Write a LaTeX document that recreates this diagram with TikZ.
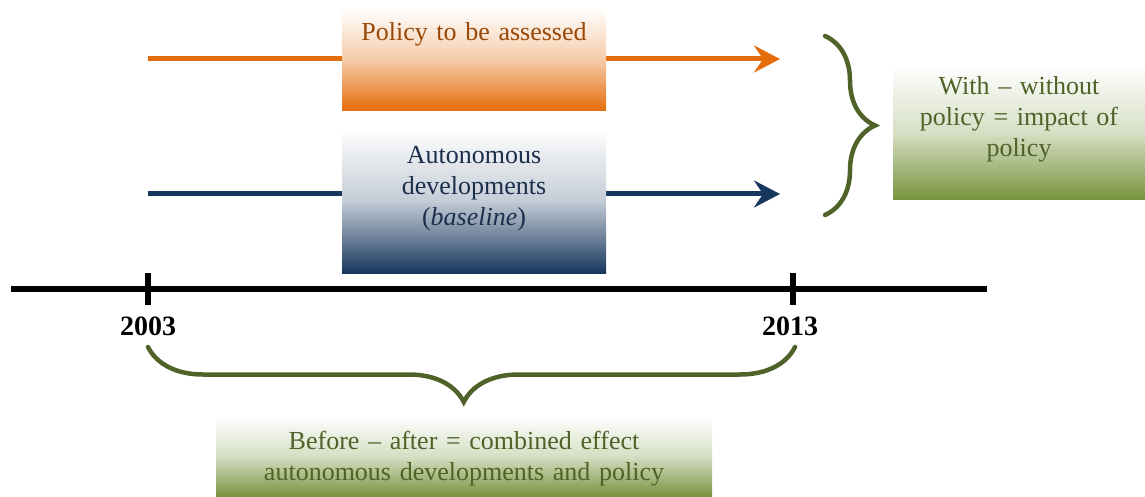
\documentclass[tikz,border=0pt]{standalone}
\usepackage{fontspec}
\setmainfont{Liberation Serif}
\usepackage{xcolor}
\usepackage{tikz}
\usetikzlibrary{arrows.meta,decorations.pathreplacing}
\definecolor{polorange}{HTML}{E46C0A}
\definecolor{poltext}{HTML}{984807}
\definecolor{navy}{HTML}{17375E}
\definecolor{navytext}{HTML}{1B2E4C}
\definecolor{olive}{HTML}{77933C}
\definecolor{olivetext}{HTML}{4F6228}
\tikzset{
  axis/.style={draw=black, line width=5.5pt},
  polarrow/.style={draw=polorange, line width=5pt, -{Stealth[length=26pt,width=27pt,inset=9pt]}},
  basearrow/.style={draw=navy, line width=5pt, -{Stealth[length=26pt,width=27pt,inset=9pt]}},
  brc/.style={draw=olivetext, line width=4.5pt, line cap=round, decorate},
  box/.style={inner sep=0pt, align=center, anchor=base, font=\fontsize{26}{31}\selectfont},
  polbox/.style={box, top color=white, bottom color=polorange, middle color=polorange!35, text=poltext},
  basebox/.style={box, top color=white, bottom color=navy, middle color=navy!25, text=navytext},
  effbox/.style={box, top color=white, bottom color=olive, middle color=olive!30, text=olivetext},
  year/.style={font=\bfseries\fontsize{28}{30}\selectfont, anchor=base},
}
\begin{document}
\begin{tikzpicture}[x=1pt, y=-1pt]
  \useasboundingbox (0,0) rectangle (1145,497);
  % scenarios
  \coordinate (pstart) at (148,59);
  \coordinate (pend) at (780,59);
  \coordinate (bstart) at (148,194);
  \coordinate (bend) at (780,194);
  \draw[polarrow] (pstart) -- (pend);
  \draw[basearrow] (bstart) -- (bend);
  \node[polbox, text width=264pt, text height=33pt, text depth=70pt] (policy) at (474,41) {Policy to be assessed};
  \node[basebox, text width=264pt, text height=36pt, text depth=109pt] (baseline) at (474,164) {Autonomous\\developments\\(\textit{baseline})};
  % time axis
  \coordinate (axl) at (11,289);
  \coordinate (axr) at (987,289);
  \draw[axis] (axl) -- (axr);
  \draw[axis] (148,273) -- (148,305);
  \draw[axis] (793,273) -- (793,305);
  \node[year] (y2003) at (148,335) {2003};
  \node[year] (y2013) at (790,335) {2013};
  % braces
  \draw[brc, decoration={brace, amplitude=50pt}] (825,36) -- (825,215);
  \draw[brc, decoration={brace, amplitude=55pt, aspect=0.512}] (795,347) -- (148,347);
  \node[effbox, text width=252pt, text height=30pt, text depth=105pt] (impact) at (1019,95) {With -- without\\policy = impact of\\policy};
  \node[effbox, text width=496pt, text height=34pt, text depth=48pt] (combined) at (464,449) {Before -- after = combined effect\\autonomous developments and policy};
\end{tikzpicture}
\end{document}
